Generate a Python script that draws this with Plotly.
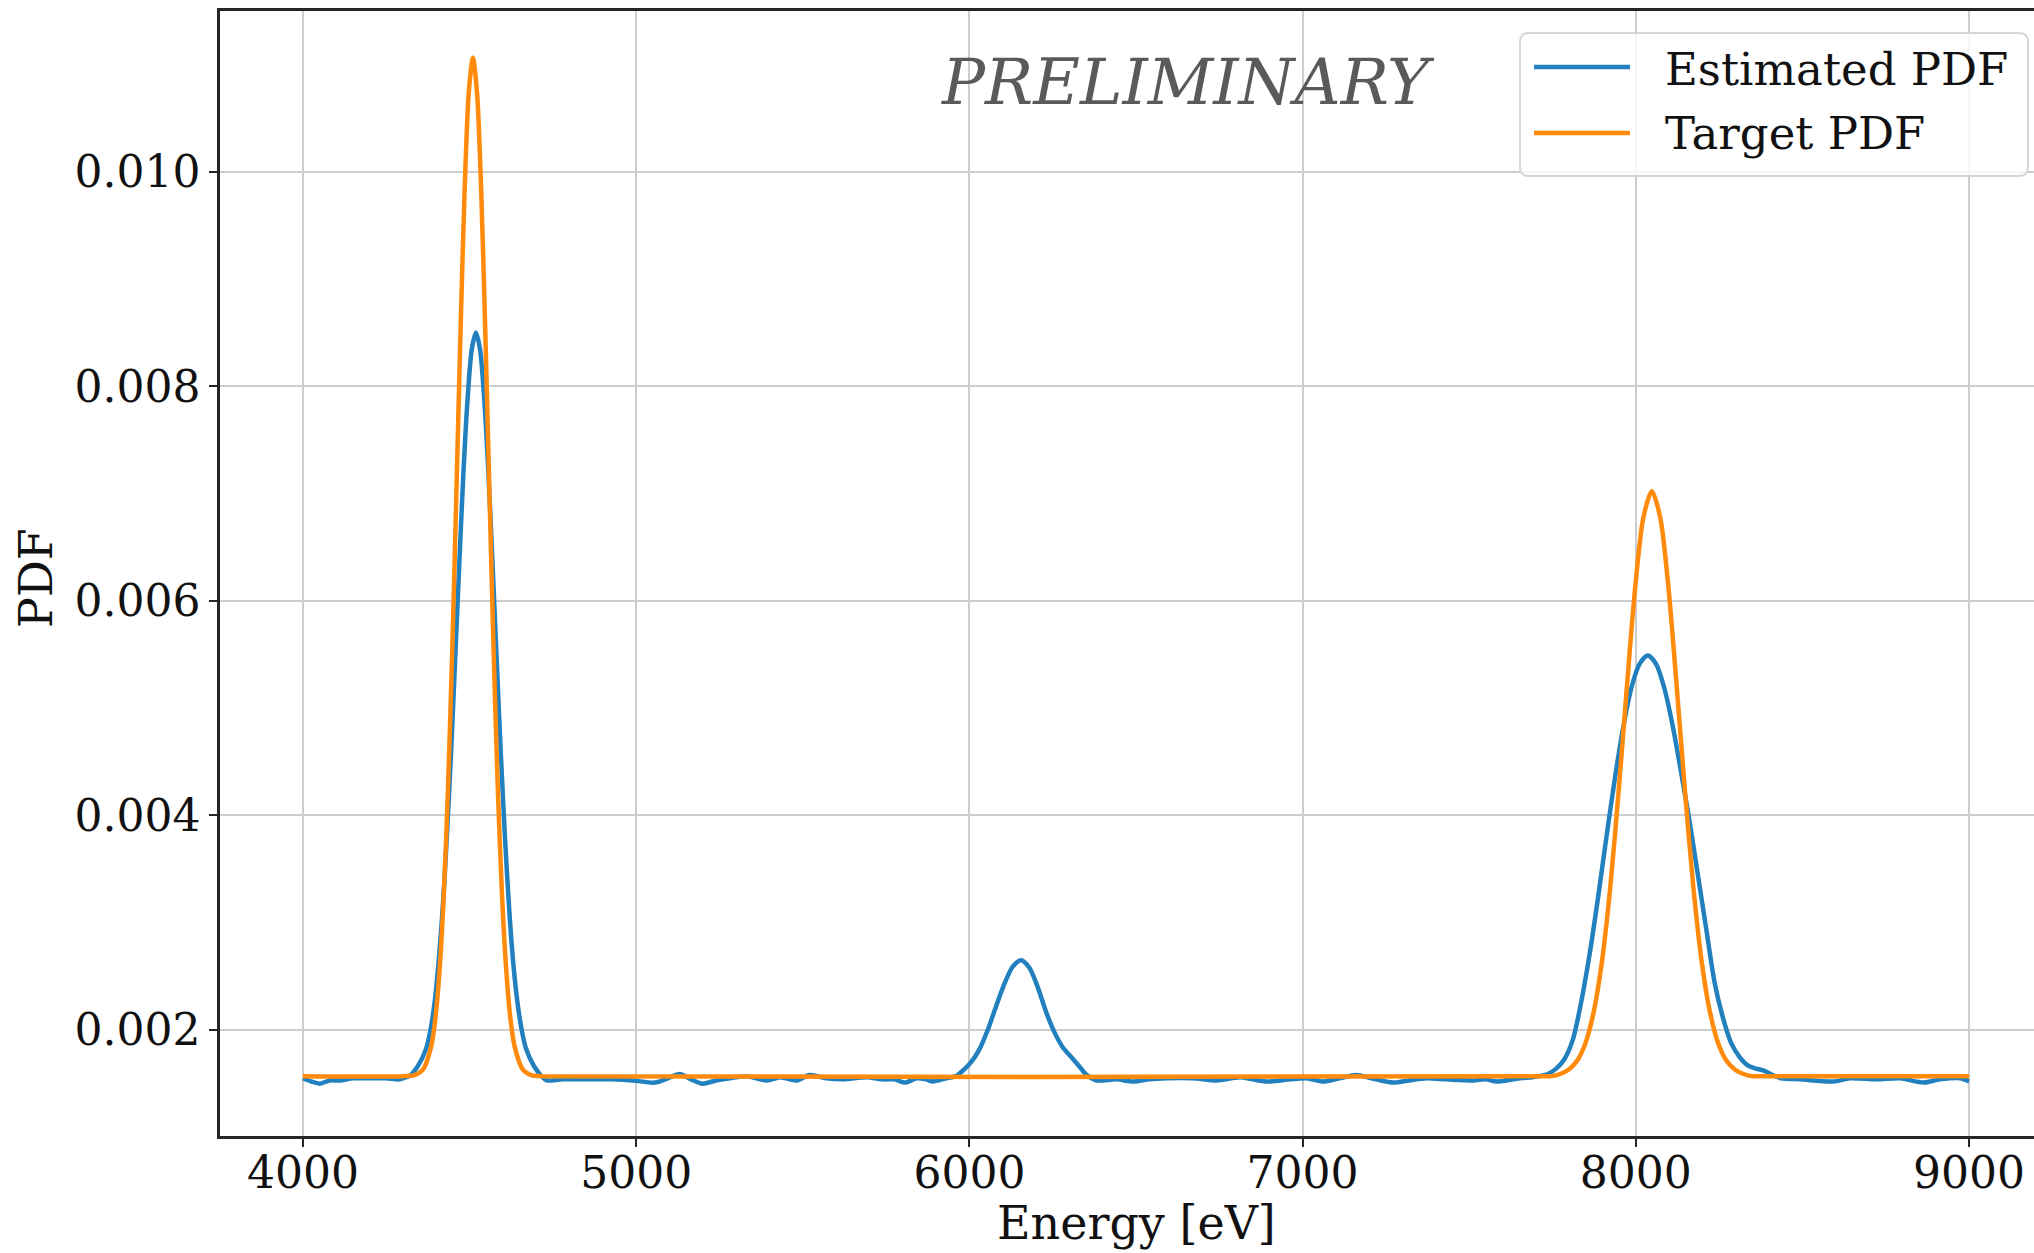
import plotly.graph_objects as go

# ---- data -----------------------------------------------------------------
# Target PDF: photon energy [eV] and density
energy_target = [
    4000, 4300, 4335, 4360, 4385, 4397.5, 4410, 4422.5, 4435, 4447.5, 4460, 4472.5,
    4485, 4497.5, 4510, 4522.5, 4535, 4547.5, 4560, 4572.5, 4585, 4597.5, 4610,
    4622.5, 4635, 4660, 4685, 4720,
    7700, 7748, 7773, 7798, 7823, 7848, 7873, 7898, 7923, 7948, 7973, 7998, 8023,
    8048, 8073, 8098, 8123, 8148, 8173, 8198, 8223, 8248, 8273, 8298, 8323, 8348,
    8400, 9000,
]
pdf_target = [
    0.00157, 0.00157, 0.00158, 0.00163, 0.00185, 0.00211, 0.00256, 0.00325, 0.00423,
    0.00549, 0.00696, 0.00847, 0.00981, 0.01073, 0.01106, 0.01073, 0.00981, 0.00847,
    0.00696, 0.00549, 0.00423, 0.00325, 0.00256, 0.00211, 0.00185, 0.00163, 0.00158,
    0.00157,
    0.00157, 0.00157, 0.00159, 0.00163, 0.00171, 0.00187, 0.00216, 0.00263, 0.00332,
    0.00421, 0.00519, 0.00612, 0.00678, 0.00702, 0.00678, 0.00612, 0.00519, 0.00421,
    0.00332, 0.00263, 0.00216, 0.00187, 0.00171, 0.00163, 0.00159, 0.00157,
    0.00157, 0.00157,
]

# Estimated PDF: photon energy [eV] and density
energy_est = [
    4000, 4025, 4051, 4080, 4111, 4150, 4200, 4250, 4290, 4310,
    4319, 4344, 4369, 4381.5, 4394, 4406.5, 4419, 4431.5, 4444, 4456.5, 4469, 4481.5,
    4494, 4506.5, 4519, 4531.5, 4544, 4556.5, 4569, 4581.5, 4594, 4606.5, 4619,
    4631.5, 4644, 4656.5, 4669, 4694, 4719, 4731,
    4780, 4850, 4930, 4990, 5056, 5095, 5131, 5165, 5200, 5240, 5281, 5332, 5392,
    5432, 5482, 5520, 5570, 5621, 5692, 5741, 5775, 5807, 5842, 5870, 5891, 5930,
    5960,
    5980, 6005, 6030, 6055, 6080, 6105, 6130, 6155, 6180, 6205, 6230, 6255, 6280,
    6305, 6330, 6352, 6382,
    6440, 6492, 6540, 6592, 6670, 6742, 6812, 6850, 6892, 6962, 7012, 7062, 7110,
    7162, 7220, 7272, 7320, 7372, 7432, 7512, 7550, 7582, 7652, 7690,
    7711, 7736, 7761, 7786, 7811, 7836, 7861, 7886, 7911, 7936, 7961, 7986, 8011,
    8036, 8061, 8086, 8111, 8136, 8161, 8186, 8211, 8236, 8261, 8286, 8311, 8336,
    8361, 8386, 8411, 8436,
    8493, 8593, 8643, 8723, 8793, 8863, 8913, 8973, 9000,
]
pdf_est = [
    0.00155, 0.00152, 0.00150, 0.00153, 0.00153, 0.00155, 0.00155, 0.00155, 0.00154,
    0.00156,
    0.00157, 0.00166, 0.00182, 0.00198, 0.00223, 0.00261, 0.00312, 0.00378, 0.00456,
    0.00544, 0.00634, 0.00719, 0.00788, 0.00834, 0.00850, 0.00834, 0.00788, 0.00719,
    0.00634, 0.00544, 0.00456, 0.00378, 0.00312, 0.00261, 0.00225, 0.00200, 0.00183,
    0.00166, 0.00156, 0.00153,
    0.00154, 0.00154, 0.00154, 0.00153, 0.00151, 0.00155, 0.00159, 0.00154, 0.00150,
    0.00153, 0.00155, 0.00157, 0.00153, 0.00156, 0.00153, 0.00158, 0.00155, 0.00154,
    0.00156, 0.00154, 0.00154, 0.00151, 0.00155, 0.00154, 0.00152, 0.00155, 0.00157,
    0.00162, 0.00170, 0.00182, 0.00200, 0.00222, 0.00243, 0.00259, 0.00265, 0.00258,
    0.00240, 0.00217, 0.00198, 0.00184, 0.00175, 0.00166, 0.00158, 0.00153,
    0.00154, 0.00152, 0.00154, 0.00155, 0.00155, 0.00153, 0.00156, 0.00154, 0.00152,
    0.00154, 0.00155, 0.00152, 0.00155, 0.00158, 0.00154, 0.00151, 0.00153, 0.00155,
    0.00154, 0.00153, 0.00154, 0.00152, 0.00155, 0.00156,
    0.00157, 0.00159, 0.00164, 0.00173, 0.00191, 0.00226, 0.00270, 0.00322, 0.00378,
    0.00432, 0.00480, 0.00518, 0.00541, 0.00549, 0.00541, 0.00518, 0.00483, 0.00440,
    0.00395, 0.00345, 0.00295, 0.00245, 0.00212, 0.00188, 0.00175, 0.00167, 0.00164,
    0.00162, 0.00158, 0.00155,
    0.00154, 0.00152, 0.00155, 0.00154, 0.00155, 0.00151, 0.00154, 0.00155, 0.00152,
]

x_ticks = [4000, 5000, 6000, 7000, 8000, 9000]
y_ticks = [0.002, 0.004, 0.006, 0.008, 0.010]
series_names = ["Estimated PDF", "Target PDF"]

# ---- styling ----------------------------------------------------------------
W, H = 2034, 1253
M_L, M_R, M_T, M_B = 220, 0, 11, 117
PLOT_W = W - M_L - M_R
PLOT_H = H - M_T - M_B
FONT = "DejaVu Serif"
BLUE = "#2180bd"
ORANGE = "#ff8a0c"
GRID = "#cdcdcd"
SPINE = "#262626"


def px_x(px):
    """Horizontal page pixel -> paper fraction."""
    return (px - M_L) / PLOT_W


def px_y(py):
    """Vertical page pixel (from top) -> paper fraction."""
    return (H - M_B - py) / PLOT_H


fig = go.Figure()
fig.add_trace(go.Scatter(
    x=energy_est, y=pdf_est, mode="lines", name=series_names[0],
    line=dict(color=BLUE, width=4.5, shape="spline", smoothing=0.8),
))
fig.add_trace(go.Scatter(
    x=energy_target, y=pdf_target, mode="lines", name=series_names[1],
    line=dict(color=ORANGE, width=4.5, shape="spline", smoothing=0.8),
))

axis_common = dict(
    showgrid=True, gridcolor=GRID, gridwidth=2,
    showline=True, linecolor=SPINE, linewidth=2.5,
    ticks="outside", ticklen=8, tickwidth=2, tickcolor=SPINE,
    tickfont=dict(family=FONT, size=44, color="#111111"),
    zeroline=False, automargin=False,
)

fig.update_xaxes(
    range=[3751, 9195], tickvals=x_ticks, ticktext=[str(v) for v in x_ticks],
    mirror=True, ticklabelstandoff=-12, **axis_common,
)
fig.update_yaxes(
    range=[0.0010122, 0.011496], tickvals=y_ticks,
    ticktext=[f"{v:.3f}" for v in y_ticks], **axis_common,
)

annotations = [
    dict(text="PRELIMINARY", x=px_x(1188), y=px_y(82), xanchor="center", yanchor="middle",
         font=dict(family=FONT, size=64, color="#5a5a5a", style="italic")),
    dict(text="Energy [eV]", x=px_x(1136), y=px_y(1223), xanchor="center", yanchor="middle",
         font=dict(family=FONT, size=46, color="#111111")),
    dict(text="PDF", x=px_x(36), y=px_y(578), xanchor="center", yanchor="middle",
         textangle=-90, font=dict(family=FONT, size=46, color="#111111")),
    dict(text=series_names[0], x=px_x(1663), y=px_y(69), xanchor="left", yanchor="middle",
         font=dict(family=FONT, size=45, color="#111111")),
    dict(text=series_names[1], x=px_x(1663), y=px_y(134), xanchor="left", yanchor="middle",
         font=dict(family=FONT, size=45, color="#111111")),
]
for a in annotations:
    a.update(xref="paper", yref="paper", showarrow=False)

# legend frame with rounded corners
bx0, bx1, by0, by1 = px_x(1520), px_x(2028), px_y(176), px_y(33)
rx, ry = 9 / PLOT_W, 9 / PLOT_H
frame = (
    f"M {bx0 + rx} {by0} L {bx1 - rx} {by0} Q {bx1} {by0} {bx1} {by0 + ry} "
    f"L {bx1} {by1 - ry} Q {bx1} {by1} {bx1 - rx} {by1} "
    f"L {bx0 + rx} {by1} Q {bx0} {by1} {bx0} {by1 - ry} "
    f"L {bx0} {by0 + ry} Q {bx0} {by0} {bx0 + rx} {by0} Z"
)
shapes = [
    dict(type="path", path=frame, xref="paper", yref="paper",
         fillcolor="rgba(255,255,255,0.8)", line=dict(color="#d6d6d6", width=2),
         layer="above"),
    dict(type="line", x0=px_x(1534), x1=px_x(1630), y0=px_y(67), y1=px_y(67),
         xref="paper", yref="paper", line=dict(color=BLUE, width=4.5), layer="above"),
    dict(type="line", x0=px_x(1534), x1=px_x(1630), y0=px_y(133), y1=px_y(133),
         xref="paper", yref="paper", line=dict(color=ORANGE, width=4.5), layer="above"),
]

fig.update_layout(
    width=W, height=H,
    margin=dict(l=M_L, r=M_R, t=M_T, b=M_B, pad=0),
    paper_bgcolor="white", plot_bgcolor="white",
    showlegend=False,
    font=dict(family=FONT, color="#111111"),
    annotations=annotations,
    shapes=shapes,
)

fig.write_html("out.html")
